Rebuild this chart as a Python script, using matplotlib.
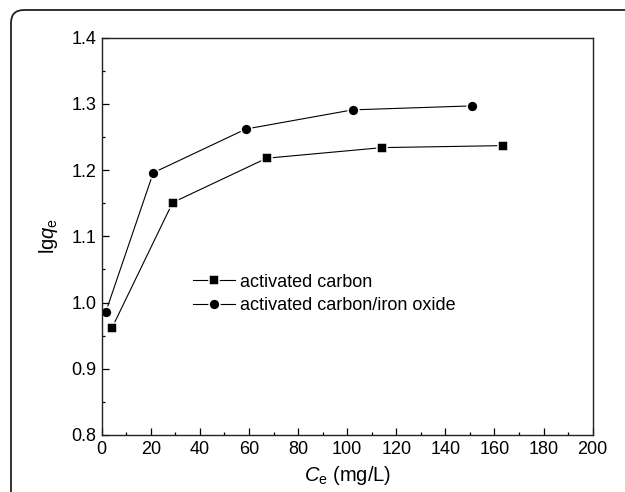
import numpy as np
import matplotlib
matplotlib.use('Agg')
import matplotlib.pyplot as plt
from matplotlib.patches import FancyBboxPatch

plt.rcParams['font.family'] = ['Liberation Sans', 'DejaVu Sans']
plt.rcParams['mathtext.fontset'] = 'custom'
plt.rcParams['mathtext.rm'] = 'Liberation Sans'
plt.rcParams['mathtext.it'] = 'Liberation Sans:italic'

# data
ce_carbon = [4.1, 28.9, 67.2, 114.3, 163.6]
lgq_carbon = [0.961, 1.151, 1.218, 1.234, 1.237]
ce_iron = [1.6, 21.0, 58.7, 102.2, 150.7]
lgq_iron = [0.985, 1.196, 1.262, 1.291, 1.297]
labels = ['activated carbon', 'activated carbon/iron oxide']

x_ticks = np.arange(0, 201, 20)
y_ticks = [0.8, 0.9, 1.0, 1.1, 1.2, 1.3, 1.4]

fig = plt.figure(figsize=(6.25, 4.92), dpi=100)
ax = fig.add_axes([0.1627, 0.1159, 0.7856, 0.8075])

# outer rounded frame (runs off the right and bottom edges)
frame = FancyBboxPatch((0.11, -0.3), 6.6, 5.12, boxstyle='round,pad=0,rounding_size=0.13',
                       transform=fig.dpi_scale_trans, fill=False, edgecolor='#222222',
                       linewidth=1.3, clip_on=False)
fig.patches.append(frame)

# white marker edge gives the small gap between line and symbol
ax.plot(ce_carbon, lgq_carbon, color='black', linewidth=0.8, marker='s',
        markersize=6.8, markeredgecolor='white', markeredgewidth=1.1, label=labels[0])
ax.plot(ce_iron, lgq_iron, color='black', linewidth=0.8, marker='o',
        markersize=7.8, markeredgecolor='white', markeredgewidth=1.1, label=labels[1])

ax.set_xlim(0, 200)
ax.set_ylim(0.8, 1.4)
ax.set_xticks(x_ticks)
ax.set_yticks(y_ticks)
ax.set_xticks(np.arange(10, 200, 20), minor=True)
ax.set_yticks(np.arange(0.85, 1.4, 0.1), minor=True)
ax.set_yticklabels(['%.1f' % v for v in y_ticks])
ax.tick_params(which='major', direction='in', length=5, width=0.9, labelsize=13, pad=4,
               top=False, right=False)
ax.tick_params(which='minor', direction='in', length=2.5, width=0.9, top=False, right=False)
for s in ax.spines.values():
    s.set_linewidth(1.0)
    s.set_color('#222222')

ax.set_xlabel(r'$C_\mathrm{e}$ (mg/L)', fontsize=14.5, labelpad=5)
ax.set_ylabel(r'lg$q_\mathrm{e}$', fontsize=14.5, labelpad=8)

ax.legend(loc='upper left', bbox_to_anchor=(0.153, 0.447), frameon=False, fontsize=13,
          handlelength=2.3, handletextpad=0.3, labelspacing=0.35)

fig.savefig('out.png', dpi=100)
